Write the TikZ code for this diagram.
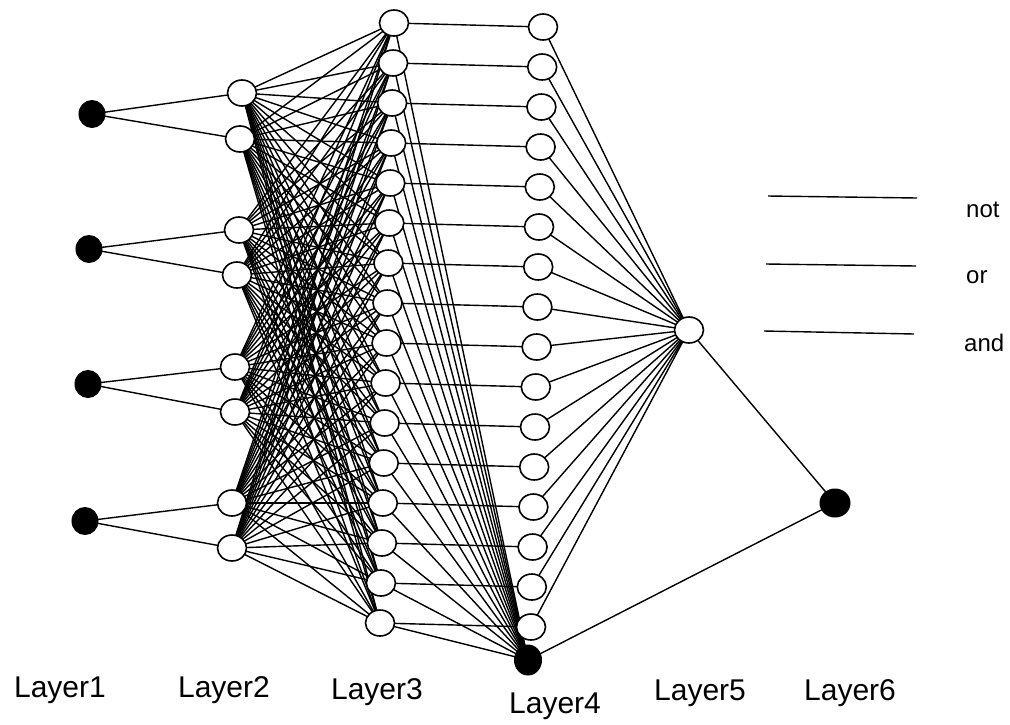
\documentclass[tikz,border=0pt]{standalone}
\usepackage{fontspec}
\setmainfont{Liberation Sans}
\usetikzlibrary{shapes.geometric,backgrounds}
\tikzset{
  openn/.style={draw, ellipse, fill=white, line width=1.6pt, minimum width=29pt, minimum height=26pt, inner sep=0pt},
  filln/.style={draw, ellipse, fill=black, line width=1pt, minimum width=26pt, minimum height=27pt, inner sep=0pt},
  edge/.style={line width=1.4pt},
  layerlbl/.style={font=\fontsize{30}{32}\selectfont, inner sep=0pt},
  oplbl/.style={font=\fontsize{24}{26}\selectfont, anchor=west, inner sep=0pt}
}
\begin{document}
\begin{tikzpicture}[x=1pt,y=-1pt]
\useasboundingbox (0,0) rectangle (1010,724);
% Layer 1
\node[filln] (a1) at (92,114) {};
\node[filln] (a2) at (89,249) {};
\node[filln] (a3) at (88,384) {};
\node[filln] (a4) at (85,521) {};
% Layer 2
\node[openn] (b1) at (242,93) {};
\node[openn] (b2) at (240,139) {};
\node[openn] (b3) at (239,230) {};
\node[openn] (b4) at (237,275) {};
\node[openn] (b5) at (235,367) {};
\node[openn] (b6) at (235,412) {};
\node[openn] (b7) at (232,503) {};
\node[openn] (b8) at (232,548) {};
% Layer 3 and 4
\foreach \i in {0,...,15}{
  \pgfmathsetmacro\cx{394-\i*14/15}
  \pgfmathsetmacro\cy{23+40*\i}
  \node[openn] (c\i) at (\cx,\cy) {};
  \pgfmathsetmacro\dx{543-\i*12/15}
  \pgfmathsetmacro\dy{27+40*\i}
  \node[openn] (d\i) at (\dx,\dy) {};
}
\node[filln, minimum width=27pt, minimum height=30pt] (dz) at (528,660) {};
% Layer 5, 6
\node[openn] (e) at (689,330) {};
\node[filln, minimum width=30pt, minimum height=28pt] (f) at (835,503) {};
% legend lines
\coordinate (l1s) at (768,196); \coordinate (l1e) at (917,198);
\coordinate (l2s) at (766,264); \coordinate (l2e) at (916,266);
\coordinate (l3s) at (764,331); \coordinate (l3e) at (914,334);
\draw[edge] (l1s) -- (l1e);
\draw[edge] (l2s) -- (l2e);
\draw[edge] (l3s) -- (l3e);
\node[oplbl] (tnot) at (966,210) {not};
\node[oplbl] (tor) at (966,277) {or};
\node[oplbl] (tand) at (964,343) {and};
% layer labels
\node[layerlbl] (L1) at (60,690) {Layer1};
\node[layerlbl] (L2) at (224,690) {Layer2};
\node[layerlbl] (L3) at (377,692) {Layer3};
\node[layerlbl] (L4) at (555,706) {Layer4};
\node[layerlbl] (L5) at (700,693) {Layer5};
\node[layerlbl] (L6) at (850,693) {Layer6};
% edges
\begin{scope}[on background layer]
  \foreach \k/\p/\q in {1/1/2, 2/3/4, 3/5/6, 4/7/8}{
    \draw[edge] (a\k.center) -- (b\p.center);
    \draw[edge] (a\k.center) -- (b\q.center);
  }
  \foreach \j in {1,...,8}{
    \foreach \i in {0,...,15}{
      \draw[edge] (b\j.center) -- (c\i.center);
    }
  }
  \foreach \i in {0,...,15}{
    \draw[edge] (c\i.center) -- (d\i.center);
    \draw[edge] (c\i.center) -- (dz.center);
    \draw[edge] (d\i.center) -- (e.center);
  }
  \draw[edge] (dz.center) -- (f.center);
  \draw[edge] (e.center) -- (f.center);
\end{scope}
\end{tikzpicture}
\end{document}
